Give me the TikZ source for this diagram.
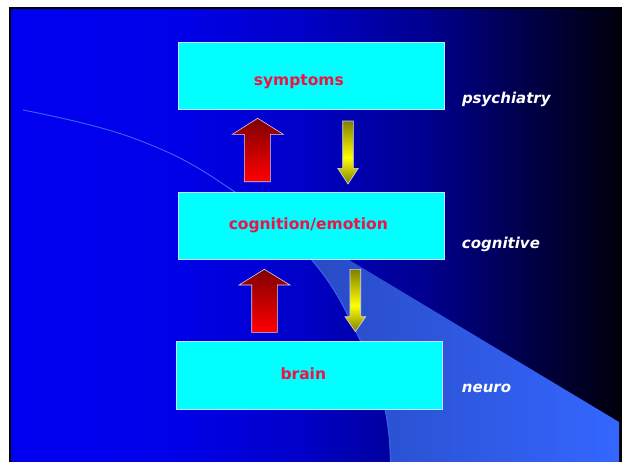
\documentclass[tikz,border=0pt]{standalone}
\usepackage{fontspec}
\setmainfont{DejaVu Sans}

% slide palette
\definecolor{slideA}{RGB}{0,0,240}
\definecolor{slideB}{RGB}{0,0,232}
\definecolor{slideC}{RGB}{0,0,200}
\definecolor{slideD}{RGB}{0,0,140}
\definecolor{slideE}{RGB}{0,0,70}
\definecolor{slideF}{RGB}{0,0,12}
\definecolor{boxcyan}{RGB}{0,255,255}
\definecolor{boxedge}{RGB}{200,225,255}
\definecolor{labelred}{RGB}{240,18,70}
\definecolor{arcblue}{RGB}{60,100,245}
\definecolor{wedgeL}{RGB}{38,68,180}
\definecolor{wedgeR}{RGB}{52,102,255}
\definecolor{olivedark}{RGB}{128,128,0}
\definecolor{brightyellow}{RGB}{255,255,0}
\definecolor{darkred}{RGB}{128,0,0}
\definecolor{arrowedge}{RGB}{215,210,240}

% background runs from bright blue on the left to black on the right
\pgfdeclarehorizontalshading{slidebg}{100bp}{%
  color(0bp)=(slideA); color(25bp)=(slideA); color(38.9bp)=(slideB);
  color(48.8bp)=(slideC); color(59.5bp)=(slideD); color(67.7bp)=(slideE);
  color(75bp)=(slideF); color(100bp)=(slideF)}
% yellow block arrows: olive at both ends, bright yellow a little below the middle
\pgfdeclareverticalshading{yellowbar}{100bp}{%
  color(0bp)=(olivedark); color(25bp)=(olivedark); color(46bp)=(brightyellow);
  color(75bp)=(olivedark); color(100bp)=(olivedark)}

\begin{document}
\begin{tikzpicture}[x=1pt,y=-1pt,
  box/.style={draw=boxedge, line width=0.8pt, fill=boxcyan,
    minimum width=266pt, minimum height=67.5pt, anchor=north west, inner sep=0pt},
  boxtext/.style={text=labelred, font=\fontsize{15.5}{18}\selectfont\bfseries,
    anchor=base, inner sep=0pt},
  sidelabel/.style={text=white, font=\fontsize{15}{18}\selectfont\bfseries\itshape,
    anchor=base west, inner sep=0pt},
  redblock/.style={draw=arrowedge, line width=0.6pt, top color=darkred, bottom color=red},
  yellowblock/.style={draw=arrowedge, line width=0.6pt, shading=yellowbar},
  arcline/.style={draw=arcblue, line width=0.9pt}]

\useasboundingbox (0,0) rectangle (623,461);
\clip (0,0) rectangle (623,461);
\fill[white] (0,0) rectangle (623,461);

% slide with its dark frame
\fill[black] (9,6.5) rectangle (621.5,470);
\shade[shading=slidebg] (11.5,9) rectangle (619,470);

% lighter wedge between the arc and the diagonal
\shade[left color=wedgeL, right color=wedgeR]
  plot[smooth, tension=0.7] coordinates {(226,186) (310,258) (360,340) (385,410) (390.5,470)}
  -- (619,470) -- (619,422) -- cycle;

% thin arc sweeping down from the left edge
\draw[arcline] plot[smooth, tension=0.7] coordinates
  {(23,110) (133,138) (226,186) (310,258) (360,340) (385,410) (390.5,470)};

% level boxes
\node[box] (symptoms) at (178,41.7) {};
\node[box] (cognition) at (178,191.7) {};
\node[box] (brain) at (176.3,341.3) {};

\node[boxtext] (symptomsText) at (298.8,85) {symptoms};
\node[boxtext] (cognitionText) at (308.3,229.3) {cognition/emotion};
\node[boxtext] (brainText) at (303.3,379) {brain};

% upward (red) and downward (yellow) block arrows
\draw[redblock] (244.3,181.7) -- (244.3,134.3) -- (232.3,134.3) -- (257.7,118.3)
  -- (283.3,134.3) -- (270.3,134.3) -- (270.3,181.7) -- cycle;
\draw[redblock] (251.7,332.3) -- (251.7,285) -- (239,285) -- (264.3,269.3)
  -- (290,285) -- (277.3,285) -- (277.3,332.3) -- cycle;
\draw[yellowblock] (342.7,121) -- (353.3,121) -- (353.3,168.3) -- (358.3,168.3)
  -- (348,184) -- (337.7,168.3) -- (342.7,168.3) -- cycle;
\draw[yellowblock] (350,269.3) -- (360.7,269.3) -- (360.7,316.7) -- (365.7,316.7)
  -- (355.3,331.7) -- (345,316.7) -- (350,316.7) -- cycle;

% discipline labels
\node[sidelabel] (psychiatry) at (461.8,103.5) {psychiatry};
\node[sidelabel] (cognitive) at (461.7,248.3) {cognitive};
\node[sidelabel] (neuro) at (461.7,392.7) {neuro};
\end{tikzpicture}
\end{document}
